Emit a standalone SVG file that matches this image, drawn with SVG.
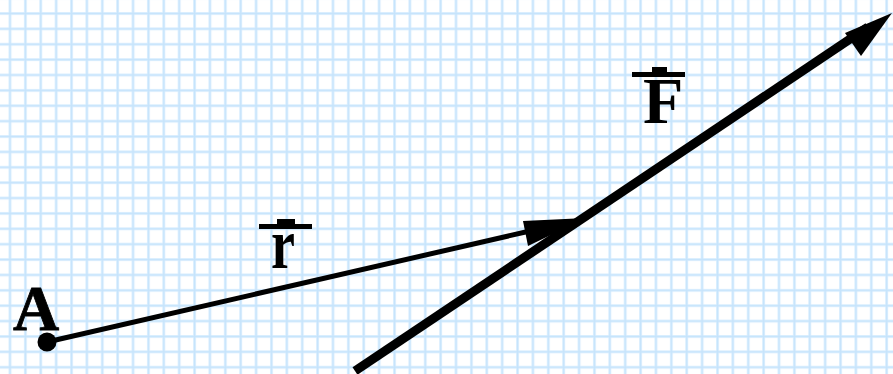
<svg xmlns="http://www.w3.org/2000/svg" width="893" height="374" viewBox="0 0 893 374">
<style>
.lbl{font-family:"Liberation Serif","Times New Roman",serif;font-weight:bold;fill:#000}
.ink{fill:#000}
</style>
<defs>
<pattern id="grid" patternUnits="userSpaceOnUse" x="8.5" y="12" width="15.38" height="15.38">
<rect x="0" y="0" width="15.38" height="15.38" fill="#fff"/>
<rect x="0" y="0" width="3" height="15.38" fill="#e2f2ff"/>
<rect x="0" y="0" width="15.38" height="3" fill="#e2f2ff"/>
<rect x="0.7" y="0" width="1.6" height="15.38" fill="#c6e4fc"/>
<rect x="0" y="0.7" width="15.38" height="1.6" fill="#c6e4fc"/>
</pattern>
</defs>
<rect x="0" y="0" width="893" height="374" fill="url(#grid)"/>
<g id="connectors">
<line x1="355" y1="371" x2="868" y2="27" stroke="#000" stroke-width="9"/>
<polygon class="ink" points="892,13 845,33 861,56"/>
<line x1="47" y1="342" x2="530" y2="231" stroke="#000" stroke-width="5"/>
<polygon class="ink" points="586,218 523,221 528,246"/>
</g>
<g id="A">
<circle class="ink" cx="47" cy="342" r="9.5"/>
<text class="lbl" x="13" y="330" font-size="64" font-weight="normal" stroke="#000" stroke-width="0.8">A</text>
</g>
<g id="r-label">
<rect class="ink" x="259" y="224" width="53" height="5"/>
<rect class="ink" x="277" y="219" width="18" height="6"/>
<text class="lbl" font-size="72" transform="translate(271,268) scale(0.75,1)">r</text>
</g>
<g id="F-label">
<rect class="ink" x="632" y="72" width="53" height="5"/>
<rect class="ink" x="652" y="67" width="15" height="6"/>
<text class="lbl" x="643" y="123" font-size="66">F</text>
</g>
</svg>
